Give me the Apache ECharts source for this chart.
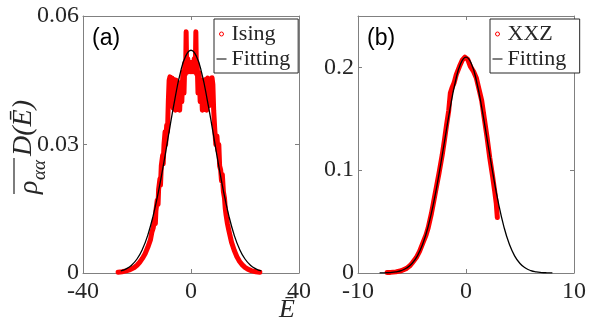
<!DOCTYPE html>
<html><head><meta charset="utf-8">
<script src="https://cdn.jsdelivr.net/npm/echarts@6/dist/echarts.min.js"></script>
<style>html,body{margin:0;padding:0;background:#fff}#c{width:589px;height:329px}</style>
</head><body><div id="c"></div>
<script>
// Panel (a): Ising data (E, rho*D)
const isingE = [-27,-25.5,-24,-22.5,-21,-20,-19,-18,-17,-16,-15,-14.5,-14,-13.5,-13.2,-13,-12.5,-12.2,-12,-11.5,-11.3,-11,-10.5,-10.3,-10,-9.6,-9.4,-9,-8.7,-8.4,-8.1,-7.8,-7.4,-7.0,-6.6,-6.2,-5.8,-5.4,-5.0,-4.6,-4.2,-3.8,-3.4,-3.0,-2.6,-2.3,-2.0,-1.8,-1.6,-1.2,-0.8,-0.4,0.0,0.4,0.8,1.2,1.6,1.8,2.0,2.3,2.6,3.0,3.4,3.8,4.2,4.6,5.0,5.4,5.8,6.2,6.6,7.0,7.4,7.8,8.1,8.4,8.8,9.2,9.6,10.0,10.3,10.6,11.0,11.3,11.6,12.0,12.4,12.7,13.0,13.5,14,15,16,17,18,19,20,21,22.5,24,25.5];
const isingRho = [0.0002,0.0003,0.0005,0.0008,0.0013,0.0018,0.0025,0.0034,0.0045,0.0060,0.0078,0.0095,0.0105,0.0125,0.0115,0.0145,0.0170,0.0160,0.0195,0.0220,0.0205,0.0250,0.0275,0.0255,0.0300,0.0330,0.0300,0.0345,0.0330,0.0400,0.0450,0.0458,0.0395,0.0455,0.0385,0.0452,0.0380,0.0450,0.0385,0.0440,0.0380,0.0445,0.0400,0.0470,0.0420,0.0490,0.0465,0.0563,0.0480,0.0500,0.0470,0.0492,0.0470,0.0492,0.0470,0.0500,0.0480,0.0563,0.0465,0.0488,0.0420,0.0468,0.0400,0.0445,0.0380,0.0450,0.0385,0.0452,0.0380,0.0455,0.0390,0.0452,0.0395,0.0456,0.0440,0.0380,0.0335,0.0300,0.0320,0.0285,0.0300,0.0250,0.0240,0.0215,0.0230,0.0190,0.0175,0.0150,0.0135,0.0115,0.0100,0.0072,0.0053,0.0038,0.0027,0.0019,0.0013,0.0009,0.0005,0.0003,0.0002];
// Panel (a): fitting curve samples
const fitAE = [-26,-24,-22,-20,-18,-16,-14,-12,-10,-8,-6,-4,-2,0,2,4,6,8,10,12,14,16,18,20,22,24,26];
const fitARho = [0.00048,0.00097,0.00183,0.00327,0.00552,0.00885,0.0134,0.0192,0.0260,0.0334,0.0405,0.0466,0.0506,0.0520,0.0506,0.0466,0.0405,0.0334,0.0260,0.0192,0.0134,0.00885,0.00552,0.00327,0.00183,0.00097,0.00048];
// Panel (b): XXZ data
const xxzE = [-7.3,-7,-6.5,-6,-5.5,-5.2,-5,-4.6,-4.3,-4,-3.7,-3.5,-3.2,-3,-2.7,-2.5,-2.2,-2,-1.8,-1.6,-1.45,-1.3,-1.1,-0.9,-0.6,-0.35,-0.1,0.15,0.4,0.7,0.95,1.2,1.45,1.7,1.95,2.2,2.45,2.65,2.8,2.9];
const xxzRho = [0.0004,0.0006,0.0011,0.0022,0.0045,0.0070,0.0095,0.0150,0.0210,0.0290,0.0370,0.0440,0.0580,0.0690,0.0860,0.0970,0.1150,0.1290,0.1440,0.1580,0.1750,0.1800,0.1850,0.1930,0.2010,0.2070,0.2100,0.2080,0.2010,0.1960,0.1900,0.1790,0.1680,0.1500,0.1320,0.1120,0.0950,0.0800,0.0680,0.0540];
// Panel (b): fitting curve samples
const fitBE = [-8,-7.5,-7,-6.5,-6,-5.5,-5,-4.5,-4,-3.5,-3,-2.5,-2,-1.5,-1,-0.5,0,0.5,1,1.5,2,2.5,3,3.5,4,4.5,5,5.5,6,6.5,7,7.5,8];
const fitBRho = [0.00007,0.00019,0.00046,0.00107,0.00233,0.0048,0.0092,0.0167,0.0284,0.0454,0.0682,0.0962,0.1274,0.1585,0.1853,0.2035,0.2100,0.2035,0.1853,0.1585,0.1274,0.0962,0.0682,0.0454,0.0284,0.0167,0.0092,0.0048,0.00233,0.00107,0.00046,0.00019,0.00007];

const axA = {xmin:-40, xmax:40, xint:40, ymin:0, ymax:0.06, yint:0.03};
const axB = {xmin:-10, xmax:10, xint:10, ymin:0, ymax:0.25, yint:0.1};

const zip = (a,b) => a.map((v,i)=>[v,b[i]]);
const AX = '#808080', TXT = '#262626', SERIF = 'Liberation Serif';

function xAx(g, ax, pos, labels){
  return {type:'value', gridIndex:g, position:pos, min:ax.xmin, max:ax.xmax, interval:ax.xint,
    axisLine:{show:true, onZero:false, lineStyle:{color:AX, width:1}},
    axisTick:{show:true, inside:true, length:4, lineStyle:{color:AX}},
    axisLabel:{show:labels, color:TXT, fontFamily:SERIF, fontSize:24, margin:7},
    splitLine:{show:false}};
}
function yAx(g, ax, pos, labels){
  return {type:'value', gridIndex:g, position:pos, min:ax.ymin, max:ax.ymax, interval:ax.yint,
    axisLine:{show:true, onZero:false, lineStyle:{color:AX, width:1}},
    axisTick:{show:true, inside:true, length:4, lineStyle:{color:AX}},
    axisLabel:{show:labels, color:TXT, fontFamily:SERIF, fontSize:24, margin:4, showMaxLabel: g===0},
    splitLine:{show:false}};
}

const legendCommon = {orient:'vertical', itemWidth:10, itemHeight:4, itemGap:3,
  padding:[4,8,3,2], borderColor:'#262626', borderWidth:1, backgroundColor:'#fff',
  textStyle:{fontFamily:SERIF, fontSize:22, color:TXT, lineHeight:22}, selectedMode:false};
const dotIcon = {icon:'circle', itemStyle:{color:'#fff', borderColor:'#ff0000', borderWidth:1}};
const lineIcon = {itemStyle:{opacity:0}, lineStyle:{width:1, color:'#000'}};

const chart = echarts.init(document.getElementById('c'));
chart.setOption({
  animation:false,
  backgroundColor:'#fff',
  grid:[{left:83, top:16, width:216, height:257}, {left:358, top:16, width:219, height:257}],
  xAxis:[xAx(0,axA,'bottom',true), xAx(0,axA,'top',false), xAx(1,axB,'bottom',true), xAx(1,axB,'top',false)],
  yAxis:[yAx(0,axA,'left',true), yAx(0,axA,'right',false), yAx(1,axB,'left',true), yAx(1,axB,'right',false)],
  legend:[
    Object.assign({left:214, top:19, data:[
      Object.assign({name:'Ising'}, dotIcon), Object.assign({name:'Fitting'}, lineIcon)]}, legendCommon),
    Object.assign({left:490, top:19, data:[
      Object.assign({name:'XXZ'}, dotIcon), Object.assign({name:'Fitting '}, lineIcon)]}, legendCommon)
  ],
  series:[
    {name:'Ising', type:'line', xAxisIndex:0, yAxisIndex:0, data:zip(isingE,isingRho), symbol:'none',
      lineStyle:{color:'#ff0000', width:5, cap:'round', join:'round'}, itemStyle:{color:'#ff0000'}, z:2},
    {name:'Fitting', type:'line', xAxisIndex:0, yAxisIndex:0, data:zip(fitAE,fitARho), symbol:'none', smooth:true,
      lineStyle:{color:'#000', width:1.3}, itemStyle:{color:'#000'}, z:3},
    {name:'XXZ', type:'line', xAxisIndex:2, yAxisIndex:2, data:zip(xxzE,xxzRho), symbol:'none',
      lineStyle:{color:'#ff0000', width:5, cap:'round', join:'round'}, itemStyle:{color:'#ff0000'}, z:2},
    {name:'Fitting ', type:'line', xAxisIndex:2, yAxisIndex:2, data:zip(fitBE,fitBRho), symbol:'none', smooth:true,
      lineStyle:{color:'#000', width:1.3}, itemStyle:{color:'#000'}, z:3}
  ],
  graphic:[
    {type:'text', left:92, top:27, style:{text:'(a)', font:'23px "Liberation Sans"', fill:'#000'}},
    {type:'text', left:367, top:27, style:{text:'(b)', font:'23px "Liberation Sans"', fill:'#000'}},
    {type:'text', left:279, top:297, style:{text:'Ē', font:'italic 26px "Liberation Serif"', fill:TXT}},
    {type:'group', x:10, y:194, rotation:Math.PI/2, children:[
      {type:'text', x:0, y:6, style:{text:'ρ', font:'italic 28px "Liberation Serif"', fill:TXT}},
      {type:'text', x:14, y:20, style:{text:'αα', font:'italic 19px "Liberation Serif"', fill:TXT}},
      {type:'line', shape:{x1:0, y1:4, x2:36, y2:4}, style:{stroke:TXT, lineWidth:1.2}},
      {type:'text', x:38, y:0, style:{text:'D(Ē)', font:'italic 28px "Liberation Serif"', fill:TXT}}
    ]}
  ]
});
</script></body></html>
